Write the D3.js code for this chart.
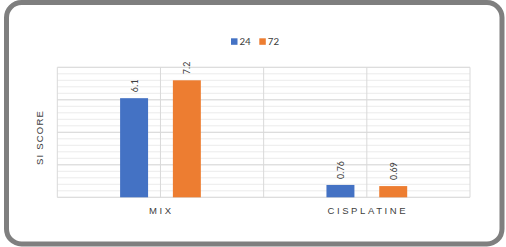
<!DOCTYPE html>
<html><head><meta charset="utf-8">
<script src="https://cdn.jsdelivr.net/npm/d3@7"></script>
<style>body{margin:0;background:#fff;}svg{display:block;}</style>
</head><body>
<script>
const categories = ["MIX", "CISPLATINE"];
const seriesNames = ["24", "72"];
const values24 = [6.1, 0.76];
const values72 = [7.2, 0.69];
const valueLabels24 = ["6.1", "0.76"];
const valueLabels72 = ["7.2", "0.69"];
const colors = ["#4472c4", "#ed7d31"];
const yTitle = "SI SCORE";

(function () {
const W = 506, H = 247;
const svg = d3.select("body").append("svg").attr("width", W).attr("height", H);
svg.append("rect").attr("x", 6.5).attr("y", 2.5).attr("width", 495.5).attr("height", 241.5)
  .attr("rx", 15).attr("fill", "#fff").attr("stroke", "#7f7f7f").attr("stroke-width", 5);

const pL = 57.3, pR = 470, pT = 67.3, pB = 197.3;
const x0 = d3.scaleBand().domain(categories).range([pL, pR]).padding(0);
const x1 = d3.scaleBand().domain(seriesNames).range([0, x0.bandwidth()]).paddingInner(0.47).paddingOuter(1.19);
const y = d3.scaleLinear().domain([0, 8]).range([pB, pT]);

const g = svg.append("g");
g.selectAll("line.minor").data(d3.range(0, 8.001, 0.4)).join("line")
  .attr("x1", pL).attr("x2", pR).attr("y1", d => y(d)).attr("y2", d => y(d))
  .attr("stroke", "#ececec").attr("stroke-width", 1);
g.selectAll("line.major").data(d3.range(0, 8.001, 2)).join("line")
  .attr("x1", pL).attr("x2", pR).attr("y1", d => y(d)).attr("y2", d => y(d))
  .attr("stroke", "#d9d9d9").attr("stroke-width", 1);
const vx = [];
categories.forEach(c => { vx.push(x0(c)); vx.push(x0(c) + x0.bandwidth() / 2); });
vx.push(pR);
g.selectAll("line.v").data(vx).join("line")
  .attr("x1", d => d).attr("x2", d => d).attr("y1", pT).attr("y2", pB)
  .attr("stroke", "#d9d9d9").attr("stroke-width", 1);

const data = [];
categories.forEach((c, i) => {
  data.push({c, s: "24", v: values24[i], l: valueLabels24[i], col: colors[0]});
  data.push({c, s: "72", v: values72[i], l: valueLabels72[i], col: colors[1]});
});
g.selectAll("rect.bar").data(data).join("rect")
  .attr("x", d => x0(d.c) + x1(d.s)).attr("width", x1.bandwidth())
  .attr("y", d => y(d.v)).attr("height", d => y(0) - y(d.v)).attr("fill", d => d.col);

g.selectAll("text.val").data(data).join("text")
  .attr("transform", d => `translate(${x0(d.c) + x1(d.s) + x1.bandwidth() / 2 + 3.5},${y(d.v) - 6}) rotate(-90)`)
  .attr("text-anchor", "start").attr("font-family", "Carlito, 'Liberation Sans', sans-serif")
  .attr("font-size", 10).attr("fill", "#404040").text(d => d.l);

g.selectAll("text.cat").data(categories).join("text")
  .attr("x", d => x0(d) + x0.bandwidth() / 2 + 1).attr("y", 214)
  .attr("text-anchor", "middle").attr("font-family", "'Liberation Sans', sans-serif")
  .attr("font-size", 9.5).attr("letter-spacing", 2.6).attr("fill", "#404040").text(d => d);

svg.append("text").attr("transform", `translate(${42.5},${137.5}) rotate(-90)`)
  .attr("text-anchor", "middle").attr("font-family", "'Liberation Sans', sans-serif")
  .attr("font-size", 9.5).attr("letter-spacing", 1.2).attr("fill", "#404040").text(yTitle);

const legX = [231, 259.3];
const leg = svg.selectAll("g.leg").data(seriesNames).join("g")
  .attr("transform", (d, i) => `translate(${legX[i]},38.3)`);
leg.append("rect").attr("width", 6.5).attr("height", 6.5).attr("fill", (d, i) => colors[i]);
leg.append("text").attr("x", 8.5).attr("y", 6.8).attr("font-family", "Carlito, 'Liberation Sans', sans-serif")
  .attr("font-size", 11).attr("fill", "#404040").text(d => d);
})();
</script>
</body></html>
